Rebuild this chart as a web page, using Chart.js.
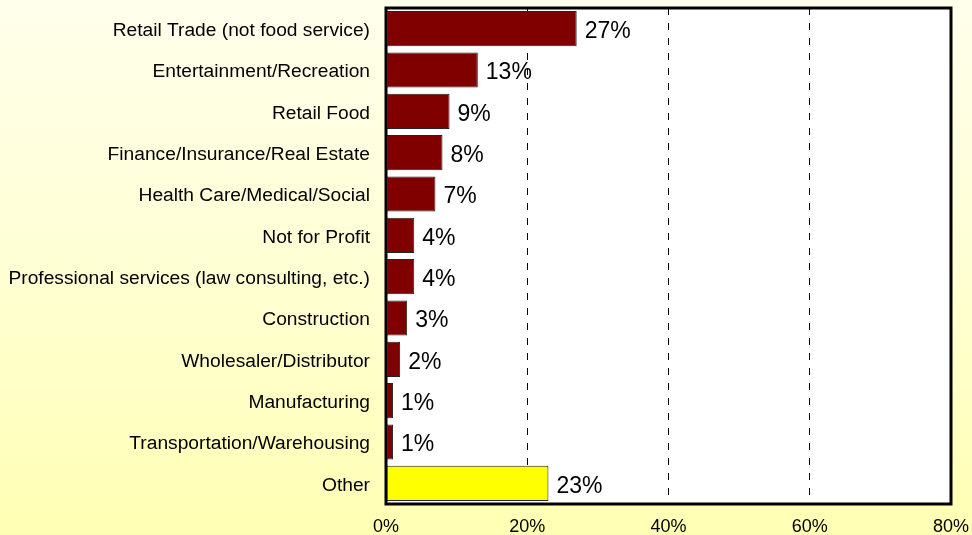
<!DOCTYPE html>
<html>
<head>
<meta charset="utf-8">
<title>Industries</title>
<script src="https://cdn.jsdelivr.net/npm/chart.js@4/dist/chart.umd.min.js"></script>
<style>
  html, body { margin: 0; padding: 0; }
  body {
    width: 972px;
    height: 535px;
    background: linear-gradient(to bottom, #ffffec 0%, #ffffd4 50%, #ffffb4 100%);
  }
  canvas { display: block; }
</style>
</head>
<body>
<canvas id="industryChart" width="972" height="535"></canvas>
<script>
const industries = [
  'Retail Trade (not food service)',
  'Entertainment/Recreation',
  'Retail Food',
  'Finance/Insurance/Real Estate',
  'Health Care/Medical/Social',
  'Not for Profit',
  'Professional services (law consulting, etc.)',
  'Construction',
  'Wholesaler/Distributor',
  'Manufacturing',
  'Transportation/Warehousing',
  'Other'
];
const shares = [27, 13, 9, 8, 7, 4, 4, 3, 2, 1, 1, 23];
const barColors = ['#800000', '#800000', '#800000', '#800000', '#800000', '#800000',
                   '#800000', '#800000', '#800000', '#800000', '#800000', '#ffff00'];
const axisMax = 80;
const axisStep = 20;

const FONT = 'Arial, "Liberation Sans", sans-serif';

// keep the plot area exactly where the layout padding puts it
function noScalePadding(scale) {
  scale.paddingTop = 0;
  scale.paddingBottom = 0;
  scale.paddingLeft = 0;
  scale.paddingRight = 0;
}

// white plot area, black frame and the value text next to each bar
const plotFrame = {
  id: 'plotFrame',
  beforeDraw(chart) {
    const a = chart.chartArea;
    const ctx = chart.ctx;
    ctx.save();
    ctx.fillStyle = '#ffffff';
    ctx.fillRect(a.left, a.top, a.right - a.left, a.bottom - a.top);
    ctx.restore();
  },
  afterDatasetsDraw(chart) {
    const ctx = chart.ctx;
    const meta = chart.getDatasetMeta(0);
    ctx.save();
    ctx.font = '23px ' + FONT;
    ctx.fillStyle = '#000000';
    ctx.textAlign = 'left';
    ctx.textBaseline = 'middle';
    meta.data.forEach(function (bar, i) {
      ctx.fillText(shares[i] + '%', bar.x + 8, bar.y + 3);
    });
    const a = chart.chartArea;
    ctx.strokeStyle = '#000000';
    ctx.lineWidth = 3;
    ctx.strokeRect(a.left, a.top, a.right - a.left, a.bottom - a.top);
    ctx.restore();
  }
};

new Chart(document.getElementById('industryChart'), {
  type: 'bar',
  data: {
    labels: industries,
    datasets: [{
      data: shares,
      backgroundColor: barColors,
      borderColor: '#222222',
      borderWidth: 1,
      borderSkipped: false,
      barPercentage: 0.85,
      categoryPercentage: 1.0
    }]
  },
  options: {
    indexAxis: 'y',
    responsive: false,
    animation: false,
    layout: { padding: { top: 8, right: 21, bottom: 0, left: 0 } },
    plugins: {
      legend: { display: false },
      tooltip: { enabled: false }
    },
    scales: {
      x: {
        min: 0,
        max: axisMax,
        afterFit(scale) {
          scale.height = 31;
          noScalePadding(scale);
        },
        ticks: {
          stepSize: axisStep,
          padding: 12,
          color: '#000000',
          font: { family: FONT, size: 18 },
          callback: function (v) { return v + '%'; }
        },
        grid: {
          drawTicks: false,
          lineWidth: 1,
          color: function (c) {
            const v = c.tick ? c.tick.value : 0;
            return (v > 0 && v < axisMax) ? '#000000' : 'rgba(0,0,0,0)';
          }
        },
        border: { display: false, dash: [7, 8] }
      },
      y: {
        afterFit(scale) {
          scale.width = 386;
          noScalePadding(scale);
        },
        ticks: {
          padding: 16,
          labelOffset: 2,
          color: '#000000',
          font: { family: FONT, size: 19.2 }
        },
        grid: { display: false, drawTicks: false },
        border: { display: false }
      }
    }
  },
  plugins: [plotFrame]
});
</script>
</body>
</html>
